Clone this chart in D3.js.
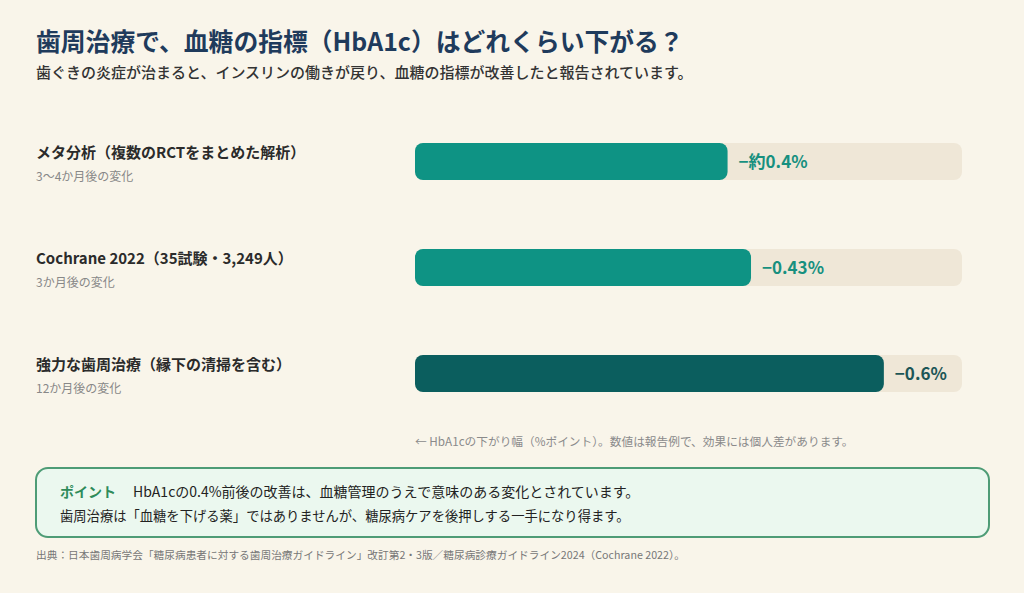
<!DOCTYPE html>
<html><head><meta charset="utf-8">
<script src="https://cdn.jsdelivr.net/npm/d3@7"></script>
<style>
html,body{margin:0;padding:0;background:#f9f5ea;}
svg{display:block;font-family:"Noto Sans CJK JP","Noto Sans",sans-serif;}
</style></head><body>
<svg id="c" width="1024" height="593"></svg>
<script>
const categories = ["メタ分析（複数のRCTをまとめた解析）","Cochrane 2022（35試験・3,249人）","強力な歯周治療（縁下の清掃を含む）"];
const subLabels = ["3〜4か月後の変化","3か月後の変化","12か月後の変化"];
const values = [0.4, 0.43, 0.6];
const valueLabels = ["−約0.4%","−0.43%","−0.6%"];
const emphasis = [false, false, true];
const domainMax = 0.7;

const svg = d3.select("#c");
svg.append("rect").attr("width",1024).attr("height",593).attr("fill","#f9f5ea");

svg.append("text").attr("x",36).attr("y",51).attr("font-size",24.8).attr("font-weight",700)
  .attr("fill","#1f3b5c").text("歯周治療で、血糖の指標（HbA1c）はどれくらい下がる？");
svg.append("text").attr("x",36).attr("y",78).attr("font-size",15).attr("font-weight",500)
  .attr("fill","#333").text("歯ぐきの炎症が治まると、インスリンの働きが戻り、血糖の指標が改善したと報告されています。");

const x = d3.scaleLinear().domain([0, domainMax]).range([415, 962]);
const y = d3.scaleBand().domain(categories).range([108.5, 426.5]).paddingInner(0).paddingOuter(0);
const bh = 37;

const rows = svg.append("g").selectAll("g").data(categories).join("g");
rows.each(function(c,i){
  const g = d3.select(this);
  const cy = y(c) + y.bandwidth()/2;
  g.append("rect").attr("x",x(0)).attr("y",cy-bh/2).attr("width",x(domainMax)-x(0)).attr("height",bh)
    .attr("rx",8).attr("fill","#efe7d7");
  g.append("rect").attr("x",x(0)).attr("y",cy-bh/2).attr("width",x(values[i])-x(0)).attr("height",bh)
    .attr("rx",8).attr("fill", emphasis[i] ? "#0b5e5e" : "#0e9384");
  g.append("text").attr("x",x(values[i])+11).attr("y",cy+6).attr("font-size",17).attr("font-weight",700)
    .attr("fill", emphasis[i] ? "#1c5656" : "#17907f").text(valueLabels[i]);
  g.append("text").attr("x",36).attr("y",cy-4).attr("font-size",15).attr("font-weight",700)
    .attr("fill","#2b2b2b").text(c);
  g.append("text").attr("x",36).attr("y",cy+19).attr("font-size",12)
    .attr("fill","#888").text(subLabels[i]);
});

svg.append("text").attr("x",415).attr("y",446).attr("font-size",11.7).attr("fill","#8a8a8a")
  .text("← HbA1cの下がり幅（%ポイント）。数値は報告例で、効果には個人差があります。");

svg.append("rect").attr("x",36).attr("y",468).attr("width",953).attr("height",69).attr("rx",12)
  .attr("fill","#ebf8ef").attr("stroke","#4e9c76").attr("stroke-width",2);
const t1 = svg.append("text").attr("x",60).attr("y",497).attr("font-size",14).attr("fill","#222");
t1.append("tspan").attr("font-weight",700).attr("fill","#2e8b5a").text("ポイント");
t1.append("tspan").attr("x",133).text("HbA1cの0.4%前後の改善は、血糖管理のうえで意味のある変化とされています。");
svg.append("text").attr("x",60).attr("y",521).attr("font-size",13.3).attr("fill","#222")
  .text("歯周治療は「血糖を下げる薬」ではありませんが、糖尿病ケアを後押しする一手になり得ます。");

svg.append("text").attr("x",36).attr("y",559).attr("font-size",10.7).attr("fill","#777")
  .text("出典：日本歯周病学会「糖尿病患者に対する歯周治療ガイドライン」改訂第2・3版／糖尿病診療ガイドライン2024（Cochrane 2022）。");
</script>
</body></html>
